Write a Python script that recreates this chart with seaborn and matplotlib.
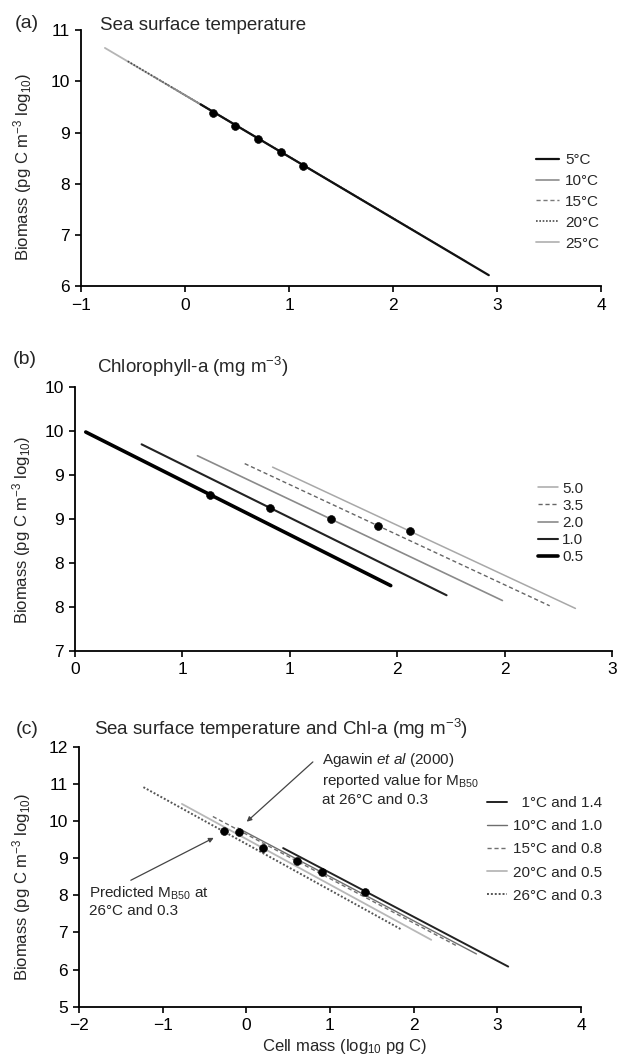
import matplotlib
matplotlib.use('Agg')
import matplotlib.pyplot as plt
import seaborn as sns

OUT_PATH = "out.png"

# (a) sea surface temperature: line ends and M_B50 points
sst_labels = ['5°C', '10°C', '15°C', '20°C', '25°C']
sst_x_start = [0.15, -0.10, -0.30, -0.55, -0.77]
sst_y_start = [9.55, 9.85, 10.09, 10.39, 10.65]
sst_x_end = [2.92, 2.70, 2.45, 2.25, 2.00]
sst_y_end = [6.22, 6.49, 6.79, 7.03, 7.33]
sst_mb50_x = [1.13, 0.92, 0.70, 0.48, 0.27]
sst_mb50_y = [8.35, 8.62, 8.87, 9.12, 9.38]

# (b) chlorophyll-a
chl_labels = ['5.0', '3.5', '2.0', '1.0', '0.5']
chl_x_start = [0.92, 0.79, 0.57, 0.31, 0.05]
chl_y_start = [9.09, 9.13, 9.22, 9.35, 9.49]
chl_x_end = [2.33, 2.21, 1.99, 1.73, 1.47]
chl_y_end = [7.48, 7.51, 7.57, 7.63, 7.74]
chl_mb50_x = [1.56, 1.41, 1.19, 0.91, 0.63]
chl_mb50_y = [8.36, 8.42, 8.50, 8.63, 8.77]
chl_xticks = [0, 0.5, 1.0, 1.5, 2.0, 2.5]
chl_xticklabels = ['0', '1', '1', '2', '2', '3']
chl_yticks = [7, 7.5, 8, 8.5, 9, 9.5, 10]
chl_yticklabels = ['7', '8', '8', '9', '9', '10', '10']

# (c) temperature and chl-a combined
combo_labels = ['  1°C and 1.4', '10°C and 1.0', '15°C and 0.8', '20°C and 0.5', '26°C and 0.3']
combo_x_start = [0.44, -0.10, -0.40, -0.77, -1.23]
combo_y_start = [9.27, 9.81, 10.12, 10.46, 10.91]
combo_x_end = [3.13, 2.75, 2.53, 2.21, 1.86]
combo_y_end = [6.08, 6.42, 6.62, 6.80, 7.07]
combo_mb50_x = [1.42, 0.90, 0.60, 0.195, -0.27]
combo_mb50_y = [8.10, 8.63, 8.92, 9.28, 9.73]
agawin_x = [-0.09]
agawin_y = [9.71]

# line styles: colour, width, dashes, zorder
sst_styles = [('#111111', 1.6, '-', 6), ('#8c8c8c', 1.2, '-', 5), ('#7a7a7a', 1.0, (0, (3, 2)), 4),
              ('#4a4a4a', 1.2, (0, (1, 1)), 3), ('#b5b5b5', 1.3, '-', 2)]
chl_styles = [('#a8a8a8', 1.1, '-', 2), ('#666666', 1.0, (0, (3, 2)), 3), ('#8a8a8a', 1.2, '-', 4),
              ('#222222', 1.5, '-', 5), ('#000000', 2.6, '-', 6)]
combo_styles = [('#222222', 1.4, '-', 6), ('#6e6e6e', 1.0, '-', 5), ('#707070', 1.0, (0, (3, 2)), 4),
                ('#b8b8b8', 1.3, '-', 3), ('#555555', 1.4, (0, (1, 1)), 2)]


def draw_lines(ax, labels, xs, ys, xe, ye, styles):
    for lab, x0, y0, x1, y1, st in zip(labels, xs, ys, xe, ye, styles):
        color, lw, ls, z = st
        sns.lineplot(x=[x0, x1], y=[y0, y1], ax=ax, color=color, linewidth=lw,
                     linestyle=ls, label=lab, zorder=z, sort=False, estimator=None)


def style_axes(ax):
    sns.despine(ax=ax)
    for side in ['left', 'bottom']:
        ax.spines[side].set_linewidth(1.3)
        ax.spines[side].set_color('black')
    ax.tick_params(direction='out', length=4, width=1.2, labelsize=12.5, pad=4, colors='black')
    ax.set_xlabel('')


sns.set_theme(style='ticks')
plt.rcParams['font.family'] = ['Liberation Sans', 'DejaVu Sans']
plt.rcParams['mathtext.fontset'] = 'custom'
plt.rcParams['mathtext.rm'] = 'Liberation Sans'
plt.rcParams['mathtext.it'] = 'Liberation Sans:italic'

ylab = r'Biomass (pg C m$^{-3}$ log$_{10}$)'

fig = plt.figure(figsize=(6.2, 10.59), dpi=100)
ax_a = fig.add_axes([0.1306, 0.7295, 0.839, 0.2422])
ax_b = fig.add_axes([0.121, 0.3857, 0.866, 0.2486])
ax_c = fig.add_axes([0.1274, 0.0494, 0.8097, 0.2455])

# panel (a)
draw_lines(ax_a, sst_labels, sst_x_start, sst_y_start, sst_x_end, sst_y_end, sst_styles)
sns.scatterplot(x=sst_mb50_x, y=sst_mb50_y, ax=ax_a, color='black', s=32, zorder=10, edgecolor='black')
ax_a.set_xlim(-1, 4)
ax_a.set_ylim(6, 11)
ax_a.set_xticks([-1, 0, 1, 2, 3, 4])
ax_a.set_yticks([6, 7, 8, 9, 10, 11])
style_axes(ax_a)
ax_a.set_ylabel(ylab, fontsize=12)
ax_a.yaxis.set_label_coords(-0.09, 0.465)
ax_a.legend(loc='center left', bbox_to_anchor=(0.875, 0.33), frameon=False, fontsize=11,
            handlelength=1.5, handletextpad=0.4, labelspacing=0.45, borderpad=0, borderaxespad=0)

# panel (b)
draw_lines(ax_b, chl_labels, chl_x_start, chl_y_start, chl_x_end, chl_y_end, chl_styles)
sns.scatterplot(x=chl_mb50_x, y=chl_mb50_y, ax=ax_b, color='black', s=32, zorder=10, edgecolor='black')
ax_b.set_xlim(0, 2.5)
ax_b.set_ylim(7, 10)
ax_b.set_xticks(chl_xticks)
ax_b.set_xticklabels(chl_xticklabels)
ax_b.set_yticks(chl_yticks)
ax_b.set_yticklabels(chl_yticklabels)
style_axes(ax_b)
ax_b.set_ylabel(ylab, fontsize=12)
ax_b.yaxis.set_label_coords(-0.078, 0.46)
ax_b.legend(loc='center left', bbox_to_anchor=(0.862, 0.485), frameon=False, fontsize=11,
            handlelength=1.3, handletextpad=0.3, labelspacing=0.2, borderpad=0, borderaxespad=0)

# panel (c)
draw_lines(ax_c, combo_labels, combo_x_start, combo_y_start, combo_x_end, combo_y_end, combo_styles)
sns.scatterplot(x=combo_mb50_x + agawin_x, y=combo_mb50_y + agawin_y, ax=ax_c, color='black', s=32,
                zorder=10, edgecolor='black')
ax_c.set_xlim(-2, 4)
ax_c.set_ylim(5, 12)
ax_c.set_xticks([-2, -1, 0, 1, 2, 3, 4])
ax_c.set_yticks([5, 6, 7, 8, 9, 10, 11, 12])
style_axes(ax_c)
ax_c.set_ylabel(ylab, fontsize=12)
ax_c.yaxis.set_label_coords(-0.092, 0.46)
ax_c.set_xlabel(r'Cell mass (log$_{10}$ pg C)', fontsize=12)
ax_c.xaxis.set_label_coords(0.53, -0.115)
ax_c.legend(loc='center left', bbox_to_anchor=(0.812, 0.605), frameon=False, fontsize=11,
            handlelength=1.35, handletextpad=0.35, labelspacing=0.6, borderpad=0, borderaxespad=0)

ax_c.annotate('', xy=(-0.02, 9.93), xytext=(0.82, 11.64),
              arrowprops=dict(arrowstyle='-|>', color='#444444', lw=0.9, mutation_scale=7))
ax_c.text(0.9, 11.88, 'Agawin $\\mathit{et\\ al}$ (2000)\nreported value for M$_{\\mathrm{B50}}$\nat 26°C and 0.3',
          fontsize=11, va='top', ha='left', linespacing=1.25)
ax_c.annotate('', xy=(-0.36, 9.58), xytext=(-1.41, 8.37),
              arrowprops=dict(arrowstyle='-|>', color='#444444', lw=0.9, mutation_scale=7))
ax_c.text(-1.88, 8.3, 'Predicted M$_{\\mathrm{B50}}$ at\n26°C and 0.3',
          fontsize=11, va='top', ha='left', linespacing=1.25)

# panel letters and titles
fig.text(15 / 620, 1 - 23.5 / 1059, '(a)', fontsize=14, va='center', ha='left')
fig.text(100 / 620, 1 - 26 / 1059, 'Sea surface temperature', fontsize=13.5, va='center', ha='left')
fig.text(13 / 620, 1 - 359.3 / 1059, '(b)', fontsize=14, va='center', ha='left')
fig.text(97 / 620, 1 - 367.3 / 1059, r'Chlorophyll-a (mg m$^{-3}$)', fontsize=13.5, va='center', ha='left')
fig.text(16 / 620, 1 - 730 / 1059, '(c)', fontsize=14, va='center', ha='left')
fig.text(94 / 620, 1 - 729.3 / 1059, r'Sea surface temperature and Chl-a (mg m$^{-3}$)', fontsize=13.5,
         va='center', ha='left')

fig.savefig(OUT_PATH, dpi=100)
plt.close(fig)
